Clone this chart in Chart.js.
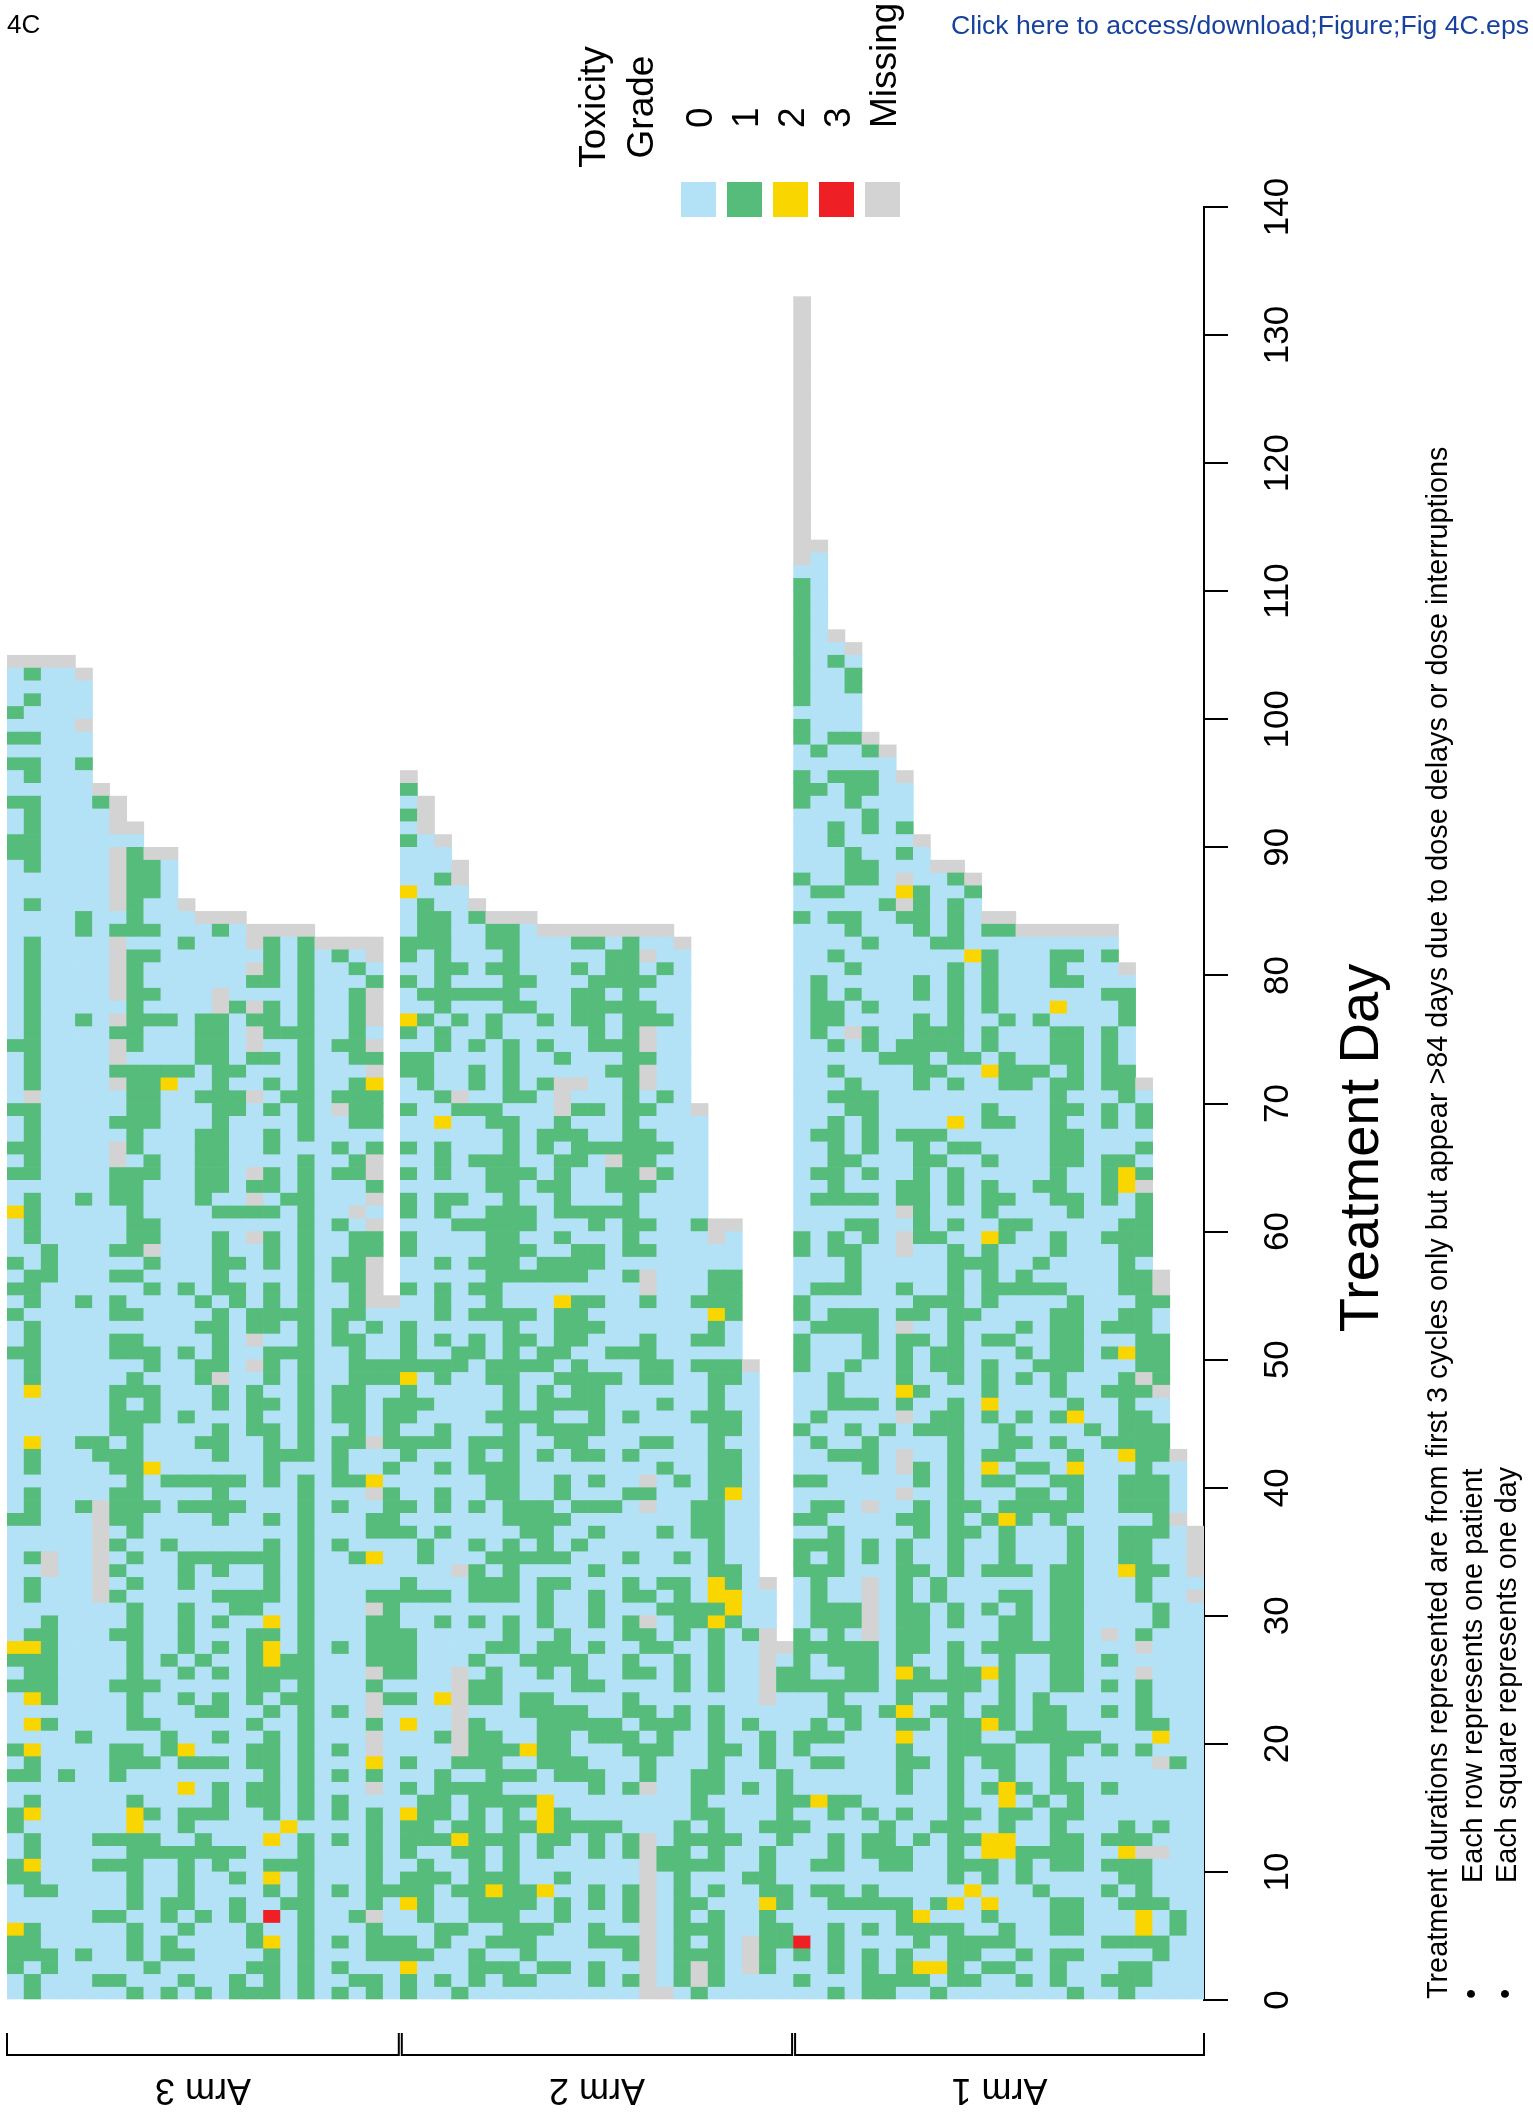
<!DOCTYPE html>
<html>
<head>
<meta charset="utf-8">
<script src="https://cdn.jsdelivr.net/npm/chart.js@4.4.0/dist/chart.umd.min.js"></script>
<style>
  html, body { margin: 0; padding: 0; background: #fff; }
  #wrap { position: relative; width: 1533px; height: 2112px; }
</style>
</head>
<body>
<div id="wrap"><canvas id="tox" width="1533" height="2112" style="width:1533px;height:2112px"></canvas></div>
<script>
// Arms as they appear left to right
const armNames = ['Arm 3', 'Arm 2', 'Arm 1'];
const armTopDays = [105, 96, 133];

// One string per treatment day, top day first, down to day 1.
// One character per patient: 0-3 = toxicity grade, x = missing
const arm3Rows = [
  "xxxx", "0100x", "00000", "01000", "10000", "0000x", "11000", "00000", "11001", "01000",
  "00000x", "110001x", "010000x", "010000xx", "11000000", "110000x1xx", "010000x110", "000000x110",
  "000000x110", "010000x100x", "00001001000xxx", "00001011100010xxxx",
  "010000x0001000x101xxxx", "010000x11000000101010x", "010000x1000000x1010010",
  "010000x100000011010001", "010000x11000x00001001x", "010000010000x1x101001x",
  "010010x11101101101001x", "01000011000110x1110010", "110000x1000110x001011x",
  "010000x000011011010011", "010000111110110001000x", "010000x112001001010012",
  "0x000001100111x0110111", "1100000110001101010x11", "0100001110001000010011",
  "0100000100011001010000", "110000x100011001000101", "010000x01001100001001x",
  "11000011100110x101011x", "0000001100011011010001", "01001011000100x011000x",
  "21000001000011110100x0", "010000011000000001010x", "01000001100010x1010011",
  "00100011x0001001010011", "101000001000110101011x", "011000110000100001011x",
  "110000001010110101001x", "010010100001010101001xx", "10000011000010111101100",
  "01000000000110110101010", "01000011000010x00101100", "11000011101010011100100",
  "01000000100110x10100111", "010000010001x0010100111", "02000011100010100101100",
  "00000010100010110101101", "00000011101000100101101", "00000011000010110100101",
  "020011010001100101011x1", "01000111000010011101000", "01000011200000010001001",
  "00000001011111010101120", "010000110000100001000x1", "01001x11101111000101001",
  "11000x11000010010100011", "00000x01000000000100011", "00000x10010000010101000",
  "01x00x01001111110100120", "00x00x10001010010100000", "01000x01001000010100000",
  "01000x10000011110100011", "000000010010011001000x1", "00100001001010020100011",
  "01100011001000110100011", "22100001001010120101011", "11100001010100121100011",
  "011000010010101111000x1", "11100011100000110100010", "021000010010101011000x1",
  "000000010001100101010x0", "02100001100000100100010", "000010000100100101000x0",
  "120000110120001101010x0", "01000011101110110100020", "11010010000000010101010",
  "000000000020101101000x0", "01000001000010110101000", "12000002101110010101010",
  "10000002001000002000010", "01000111100100020101010", "01000001111111000100010",
  "12000111001010011100010", "11000001001001020100010", "01100001001000010101011",
  "00000001011001001100010", "000001100101010301001x0", "21000001001000100100010",
  "11000001010000120101011", "11101001011000010100011", "10100000100000110101000",
  "01000110001001010100110", "01000001010101110101010"
];

const arm2Rows = [
  "x", "1", "0x", "1x", "0x", "10x", "000", "000x", "001x", "2000", "0100x", "01101xxx",
  "01100110xxxxxxxx", "1110011000110100x", "10100010000011x00", "00110110001011010",
  "10100011000111100", "01111110001101000", "00100011001111100", "21010100101101110",
  "10100100000101x00", "00101010100111x00", "11000010010001100", "11001010000011x00",
  "010010101xx001x00", "001x00110x0001010", "100111000x1101100x", "002001100100010000",
  "000000101110011000", "101000101011111100", "001011100110x11000", "10100111010011x100",
  "000001101100111000", "101100100100010000", "101001110111110000", "000111110001011001xx",
  "100001100100010000x0", "10000111001101100000", "00101110111100000000", "00000111111001x00011",
  "10101100000000x00011", "00100100021100100111", "00101111011000000021", "10000010011100000010",
  "10101011011000100110", "10011010110011100000", "11110111101000110111x", "201001100111101100110",
  "100000101011000000100", "110000101111000100100", "100001111001010001110", "001000101111000000110",
  "111011100110001100100", "100010101011010000110", "001011100000000100110", "00000110010100x010110",
  "001001100100011000120", "10101011101110x001100", "000000111100000001100", "101000011001000101100",
  "010010101010000000100", "010001111100010010100", "000x10100001000000110", "100011101100010110210x",
  "1110111010010110102200", "0000000010010001111200", "00101010100101x0112100", "100000100100011010101x",
  "100001101101001100100xx", "100010011110010010100x0", "100x01001010011010100x1", "000x11000011000010100x1",
  "102x11011000010000000x0", "000x0001111001101010000", "200x1000111110111010100", "001x1100110111010010010",
  "000x1112110001110011010", "10011100111000100010010", "00100111011100100110001", "10111100000101x00110101",
  "01101111200000000100001", "21101010210000000110001", "11011011211110001010011", "11121110110101x01111001",
  "10011010100101x11010010", "01001010000000x11110010", "11101110010000x01000110", "11011211200101x01010011",
  "21001111010101x01100021", "01001110010001x01010010", "00110011100100x01110011", "10100111000111x01010x11",
  "11001001000001x01110x10", "20001110110100x01x10x10", "10101011000101x01x10000", "10010000000000xx0100000"
];

const arm1Rows = [
  "x", "x", "x", "x", "x", "x", "x", "x", "x", "x", "x", "x", "x", "x", "x", "x", "x", "x", "x",
  "xx", "x0", "00", "10", "10", "10", "10", "10x", "100x", "1010", "1001", "1001", "1000", "0000",
  "1000", "1011x", "01001x", "000000", "101110x", "1101100", "1001000", "0000100", "0010101",
  "0010000x", "00010010", "00011000xx", "100110x001x", "01100021001", "000001x1010", "10110011010xx",
  "0001000101011xxxxxx", "0000100011000000000", "0010000000210001101", "0001000001010001000x",
  "01000001010100011000", "01010001010100000011", "01101000010100020001", "01100001010010100001",
  "010x1001110100011010", "00101011110100011010", "00000111011010011010", "00100001100211101011",
  "00010001010011011011x", "001110000000000100010", "000110000001000110101", "001010000201100100101",
  "011010111000000110000", "001010010110000110001", "001100011001000110110", "011010010100000100121",
  "00100011010100110012x", "011110110101100110101", "000000x10001000010001", "000110010100110000011",
  "101010x11002100100111", "101100x00101000100011", "000100000111001000010", "000100000101010000011x",
  "011100100101111100011x", "1000000111010000100011", "1011101101100001100110", "011110x001000101101110",
  "1000101101011001100011", "1000101011000101101211", "1001001011010011100011", "00100010010101010001x1",
  "001000210001000100111x", "0011101001020000100100", "010000x011010101200110", "1001010111001000010111",
  "0100100001001101001111", "001110x001011000100211x", "000010x1010201102000100", "11000001010110011001110",
  "000000x0010001101001110", "0110x001011011111001110", "1100001101012101000001x", "00100001011010001001110x",
  "11101010010010001001100x", "10101010010010001001100x", "11100011010111011002110x", "0100x0101000000110001000",
  "0100x010100011011000100x", "0111x0110101010110000100", "0111x0110100110110000100", "1010x0110000110110x01000",
  "11111011010111111000x000", "101110100100100110100000", "10011021011210011000x000", "111110111110100110101000",
  "001000100100101000001000", "001101201101101100101000", "010100110112101100001100", "111000200110011111000200",
  "100000100111100110101000", "011000110101100100000x10", "000000100100100100000000", "000000100101210110100000",
  "121100000100201010000000", "001010100110110110000000", "100001001100100100010100", "001011010112200110111000",
  "00101110010221111002xx00", "011001100111010110111000", "000000000101010000011000", "011010000020001000101000",
  "001111101202000110011100", "000000120001000110002010", "001010111100100110002010", "301000010111100000111100",
  "101010100110010110000100", "001010122101100100011000", "100011110110010100111000", "001011001000000010010000"
];

const dayTicks = [0, 10, 20, 30, 40, 50, 60, 70, 80, 90, 100, 110, 120, 130, 140];
const gradeCodes = ['0', '1', '2', '3', 'x'];
const gradeLabels = ['0', '1', '2', '3', 'Missing'];
const gradeColors = ['#B3E1F6', '#56BC7B', '#F9D600', '#EE1F25', '#D3D3D3'];

// ---- build one column of cells per patient ----
const armRows = [arm3Rows, arm2Rows, arm1Rows];
const patients = [];
armRows.forEach((rows, a) => {
  const top = armTopDays[a];
  const n = Math.max(...rows.map(r => r.length));
  for (let p = 0; p < n; p++) {
    let last = 0;
    for (let i = 0; i < rows.length; i++) {
      if (p < rows[i].length) { last = top - i; break; }
    }
    const cells = [];
    for (let d = 1; d <= last; d++) {
      const r = rows[top - d];
      cells.push(r && p < r.length ? r[p] : '0');
    }
    patients.push({ arm: a, cells: cells });
  }
});

const labels = patients.map((p, i) => 'P' + (i + 1));
const maxDay = Math.max(...patients.map(p => p.cells.length));
const colorOf = code => gradeColors[gradeCodes.indexOf(code)] || gradeColors[0];

const datasets = [];
for (let d = 1; d <= maxDay; d++) {
  datasets.push({
    label: 'Day ' + d,
    data: patients.map(p => d <= p.cells.length ? [d - 1, d] : null),
    backgroundColor: patients.map(p => d <= p.cells.length ? colorOf(p.cells[d - 1]) : 'rgba(0,0,0,0)')
  });
}

const FONT = '"Liberation Sans", Arial, Helvetica, sans-serif';

function rotText(c, text, x, y, angle, align) {
  c.save();
  c.translate(x, y);
  c.rotate(angle);
  c.textAlign = align;
  c.textBaseline = 'alphabetic';
  c.fillText(text, 0, 0);
  c.restore();
}

// text, legend, brackets around the plot
const decor = {
  id: 'decor',
  afterDraw(chart) {
    const c = chart.ctx;
    const ys = chart.scales.y;
    const xs = chart.scales.x;
    const up = -Math.PI / 2;
    c.save();
    c.fillStyle = '#000';

    // header
    c.font = '26px ' + FONT;
    c.textAlign = 'left';
    c.textBaseline = 'alphabetic';
    c.fillText('4C', 7, 33);
    c.font = '26.6px ' + FONT;
    c.fillStyle = '#17419E';
    c.textAlign = 'right';
    c.fillText('Click here to access/download;Figure;Fig 4C.eps', 1529, 34);
    c.fillStyle = '#000';

    // day tick labels
    c.font = '35px ' + FONT;
    dayTicks.forEach(t => rotText(c, String(t), 1288, ys.getPixelForValue(t), up, 'center'));

    // axis title
    c.font = '56px ' + FONT;
    rotText(c, 'Treatment Day', 1378, 1148, up, 'center');

    // footnote
    c.font = '28.8px ' + FONT;
    rotText(c, 'Treatment durations represented are from first 3 cycles only but appear >84 days due to dose delays or dose interruptions', 1447, 1999, up, 'left');
    rotText(c, '\u2022', 1481, 1999, up, 'left');
    rotText(c, 'Each row represents one patient', 1482, 1883, up, 'left');
    rotText(c, '\u2022', 1515, 1999, up, 'left');
    rotText(c, 'Each square represents one day', 1516, 1883, up, 'left');

    // legend
    c.font = '37px ' + FONT;
    rotText(c, 'Toxicity', 605, 107, up, 'center');
    rotText(c, 'Grade', 653, 107, up, 'center');
    gradeLabels.forEach((g, i) => {
      c.fillStyle = '#000';
      rotText(c, g, 712 + 46 * i, 128, up, 'left');
      c.fillStyle = gradeColors[i];
      c.fillRect(681 + 46 * i, 182, 35, 35);
    });

    // arm brackets
    c.fillStyle = '#000';
    c.strokeStyle = '#000';
    c.lineWidth = 2;
    c.font = '36px ' + FONT;
    const half = (xs.getPixelForValue(1) - xs.getPixelForValue(0)) / 2;
    let start = 0;
    armNames.forEach((name, a) => {
      const count = patients.filter(p => p.arm === a).length;
      let left = xs.getPixelForValue(start) - half;
      let right = xs.getPixelForValue(start + count - 1) + half;
      if (a > 0) left += 1.5;
      if (a < armNames.length - 1) right -= 1.5;
      c.beginPath();
      c.moveTo(left, 2033);
      c.lineTo(left, 2055);
      c.lineTo(right, 2055);
      c.lineTo(right, 2033);
      c.stroke();
      rotText(c, name, (left + right) / 2, 2079, Math.PI, 'center');
      start += count;
    });
    c.restore();
  }
};

new Chart(document.getElementById('tox').getContext('2d'), {
  type: 'bar',
  data: { labels: labels, datasets: datasets },
  options: {
    responsive: false,
    animation: false,
    layout: { padding: { left: 7, right: 299, top: 207, bottom: 112 } },
    plugins: { legend: { display: false }, tooltip: { enabled: false } },
    datasets: {
      bar: { grouped: false, barPercentage: 1, categoryPercentage: 1, borderWidth: 0 }
    },
    scales: {
      x: { display: false, offset: true },
      y: {
        position: 'right',
        min: 0,
        max: 140,
        ticks: { stepSize: 10, display: false },
        grid: { drawOnChartArea: false, drawTicks: true, tickLength: 24, color: '#000', lineWidth: 2 },
        border: { display: true, color: '#000', width: 2 },
        afterFit: function(scale) { scale.width = 30; }
      }
    }
  },
  plugins: [decor]
});
</script>
</body>
</html>
